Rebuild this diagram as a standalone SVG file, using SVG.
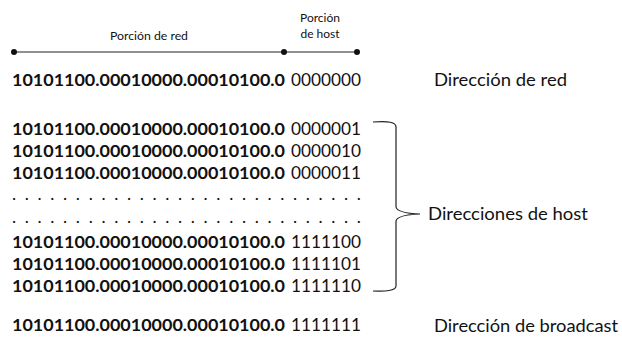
<svg xmlns="http://www.w3.org/2000/svg" width="622" height="357" viewBox="0 0 622 357">
<style>
text{font-family:Lato,"Liberation Sans",sans-serif;fill:#111}
.b{font-weight:bold;font-size:17.5px}
.r{font-size:17.5px}
.s{font-size:12px}
.l{font-size:17.5px}
.ln{stroke:#222;stroke-width:1.2;fill:none}
</style>
<rect width="622" height="357" fill="#fff"/>
<g id="scale">
<text class="s" x="110" y="40" textLength="78" lengthAdjust="spacingAndGlyphs">Porción de red</text>
<text class="s" x="320" y="22" text-anchor="middle">Porción</text>
<text class="s" x="320" y="38" text-anchor="middle">de host</text>
</g>
<g id="connectors">
<line class="ln" x1="14" y1="52" x2="357" y2="52"/>
<circle cx="14" cy="52" r="3" fill="#111"/>
<circle cx="284" cy="52" r="3" fill="#111"/>
<circle cx="357" cy="52" r="3" fill="#111"/>
<path class="ln" d="M373,122 Q396,120 396,127 L396,207 Q397,213 420,214 Q397,215 396,221 L396,286 Q396,292 373,291"/>
</g>
<g id="net">
<text class="b" x="12" y="86" textLength="273" lengthAdjust="spacingAndGlyphs">10101100.00010000.00010100.0</text>
<text class="r" x="291" y="86" textLength="70" lengthAdjust="spacingAndGlyphs">0000000</text>
<text class="l" x="434" y="86" textLength="133" lengthAdjust="spacingAndGlyphs">Dirección de red</text>
</g>
<g id="hosts">
<text class="b" x="12" y="135" textLength="273" lengthAdjust="spacingAndGlyphs">10101100.00010000.00010100.0</text>
<text class="r" x="291" y="135" textLength="70" lengthAdjust="spacingAndGlyphs">0000001</text>
<text class="b" x="12" y="157" textLength="273" lengthAdjust="spacingAndGlyphs">10101100.00010000.00010100.0</text>
<text class="r" x="291" y="157" textLength="70" lengthAdjust="spacingAndGlyphs">0000010</text>
<text class="b" x="12" y="179" textLength="273" lengthAdjust="spacingAndGlyphs">10101100.00010000.00010100.0</text>
<text class="r" x="291" y="179" textLength="70" lengthAdjust="spacingAndGlyphs">0000011</text>
<text class="r" x="12" y="200" textLength="349" lengthAdjust="spacing">. . . . . . . . . . . . . . . . . . . . . . . . . . . .</text>
<text class="r" x="12" y="223" textLength="349" lengthAdjust="spacing">. . . . . . . . . . . . . . . . . . . . . . . . . . . .</text>
<text class="b" x="12" y="248" textLength="273" lengthAdjust="spacingAndGlyphs">10101100.00010000.00010100.0</text>
<text class="r" x="291" y="248" textLength="70" lengthAdjust="spacingAndGlyphs">1111100</text>
<text class="b" x="12" y="270" textLength="273" lengthAdjust="spacingAndGlyphs">10101100.00010000.00010100.0</text>
<text class="r" x="291" y="270" textLength="70" lengthAdjust="spacingAndGlyphs">1111101</text>
<text class="b" x="12" y="292" textLength="273" lengthAdjust="spacingAndGlyphs">10101100.00010000.00010100.0</text>
<text class="r" x="291" y="292" textLength="70" lengthAdjust="spacingAndGlyphs">1111110</text>
<text class="l" x="428" y="220" textLength="160" lengthAdjust="spacingAndGlyphs">Direcciones de host</text>
</g>
<g id="broadcast">
<text class="b" x="12" y="331" textLength="273" lengthAdjust="spacingAndGlyphs">10101100.00010000.00010100.0</text>
<text class="r" x="291" y="331" textLength="70" lengthAdjust="spacingAndGlyphs">1111111</text>
<text class="l" x="434" y="332" textLength="184" lengthAdjust="spacingAndGlyphs">Dirección de broadcast</text>
</g>
</svg>
